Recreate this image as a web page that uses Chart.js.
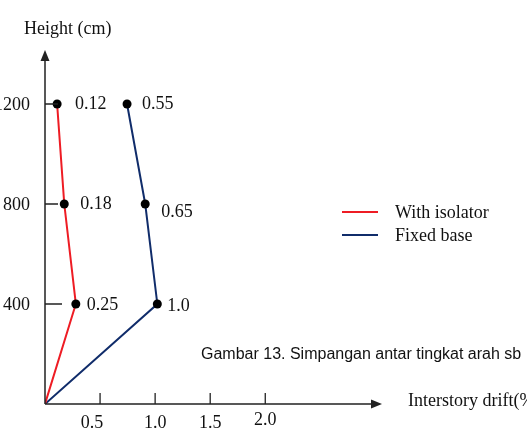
<!DOCTYPE html>
<html>
<head>
<meta charset="utf-8">
<script src="https://cdn.jsdelivr.net/npm/chart.js@4"></script>
<style>
html,body{margin:0;padding:0;background:#fff;overflow:hidden;}
canvas{display:block;}
</style>
</head>
<body>
<canvas id="c" width="527" height="444"></canvas>
<script>
// ---- data ----
const heights = [0, 400, 800, 1200];
const isolatorDrift = [0, 0.28, 0.175, 0.11];
const fixedDrift = [0, 1.02, 0.91, 0.745];
const isolatorLabels = ['', '0.25', '0.18', '0.12'];
const fixedLabels = ['', '1.0', '0.65', '0.55'];
const xTicks = [0.5, 1.0, 1.5, 2.0];
const xTickLabels = ['0.5', '1.0', '1.5', '2.0'];
const yTicks = [400, 800, 1200];
const yTickLabels = ['400', '800', '1200'];
const seriesNames = ['With isolator', 'Fixed base'];

// ---- styles ----
const SERIF = '18px "Liberation Serif", "Times New Roman", serif';
const SANS = '16px "Liberation Sans", Arial, sans-serif';
const labelOffsets = [
  [[0,0],[11,1],[16,0],[18,0]],
  [[0,0],[10,2],[16,8],[15,0]]
];
const xTickLabelDx = [-8, 0, 0, 0];
const xTickLabelDy = [0, 0, 0, -3];
const yTickLen = [17, 13, 13];

const mk = (xs) => heights.map((h, i) => ({x: xs[i], y: h}));

const overlay = {
  id: 'overlay',
  afterDatasetsDraw(chart) {
    const ctx = chart.ctx;
    const xs = chart.scales.x, ys = chart.scales.y;
    const ox = xs.getPixelForValue(0), oy = ys.getPixelForValue(0);
    const xEnd = xs.right, yEnd = ys.top;
    ctx.save();
    ctx.strokeStyle = '#222';
    ctx.fillStyle = '#222';
    ctx.lineWidth = 1.5;
    // axes
    ctx.beginPath();
    ctx.moveTo(ox, oy); ctx.lineTo(xEnd - 6, oy);
    ctx.moveTo(ox, oy); ctx.lineTo(ox, yEnd + 6);
    ctx.stroke();
    // arrowheads
    ctx.beginPath();
    ctx.moveTo(xEnd, oy); ctx.lineTo(xEnd - 11, oy - 4.5); ctx.lineTo(xEnd - 11, oy + 4.5); ctx.closePath();
    ctx.fill();
    ctx.beginPath();
    ctx.moveTo(ox, yEnd); ctx.lineTo(ox - 4.5, yEnd + 11); ctx.lineTo(ox + 4.5, yEnd + 11); ctx.closePath();
    ctx.fill();
    // ticks
    ctx.lineWidth = 1.3;
    ctx.beginPath();
    xTicks.forEach(v => { const p = xs.getPixelForValue(v); ctx.moveTo(p, oy); ctx.lineTo(p, oy - 11); });
    yTicks.forEach((v, i) => { const p = ys.getPixelForValue(v); ctx.moveTo(ox, p); ctx.lineTo(ox + yTickLen[i], p); });
    ctx.stroke();
    // tick labels
    ctx.fillStyle = '#111';
    ctx.font = SERIF;
    ctx.textBaseline = 'middle';
    ctx.textAlign = 'center';
    xTicks.forEach((v, i) => {
      ctx.fillText(xTickLabels[i], xs.getPixelForValue(v) + xTickLabelDx[i], oy + 19 + xTickLabelDy[i]);
    });
    ctx.textAlign = 'right';
    yTicks.forEach((v, i) => { ctx.fillText(yTickLabels[i], 30, ys.getPixelForValue(v) + 1); });
    // axis titles
    ctx.textAlign = 'left';
    ctx.fillText('Height (cm)', 24, 29);
    ctx.fillText('Interstory drift(%)', 408, 401);
    // data labels
    const labs = [isolatorLabels, fixedLabels];
    chart.data.datasets.forEach((ds, di) => {
      const meta = chart.getDatasetMeta(di);
      meta.data.forEach((pt, i) => {
        if (!labs[di][i]) return;
        const o = labelOffsets[di][i];
        ctx.fillText(labs[di][i], pt.x + o[0], pt.y + o[1]);
      });
    });
    // legend
    chart.data.datasets.forEach((ds, di) => {
      const y = 212 + di * 23;
      ctx.strokeStyle = ds.borderColor;
      ctx.lineWidth = 2;
      ctx.beginPath(); ctx.moveTo(342, y); ctx.lineTo(378, y); ctx.stroke();
      ctx.fillStyle = '#111';
      ctx.fillText(ds.label, 395, y + 1);
    });
    // caption
    ctx.font = SANS;
    ctx.fillText('Gambar 13. Simpangan antar tingkat arah sb', 201, 355);
    ctx.restore();
  }
};

new Chart(document.getElementById('c'), {
  type: 'scatter',
  data: {
    datasets: [
      {label: seriesNames[0], data: mk(isolatorDrift), showLine: true, borderColor: '#ee1c24', borderWidth: 2,
       pointRadius: [0,4.5,4.5,4.5], pointBackgroundColor: '#000', pointBorderColor: '#000', pointBorderWidth: 0},
      {label: seriesNames[1], data: mk(fixedDrift), showLine: true, borderColor: '#102c6a', borderWidth: 2,
       pointRadius: [0,4.5,4.5,4.5], pointBackgroundColor: '#000', pointBorderColor: '#000', pointBorderWidth: 0}
    ]
  },
  options: {
    responsive: false,
    animation: false,
    layout: {padding: {left: 45, right: 145, top: 50, bottom: 40}},
    plugins: {legend: {display: false}, tooltip: {enabled: false}},
    scales: {
      x: {type: 'linear', min: 0, max: 3.06, display: false},
      y: {type: 'linear', min: 0, max: 1416, display: false}
    }
  },
  plugins: [overlay]
});
</script>
</body>
</html>
